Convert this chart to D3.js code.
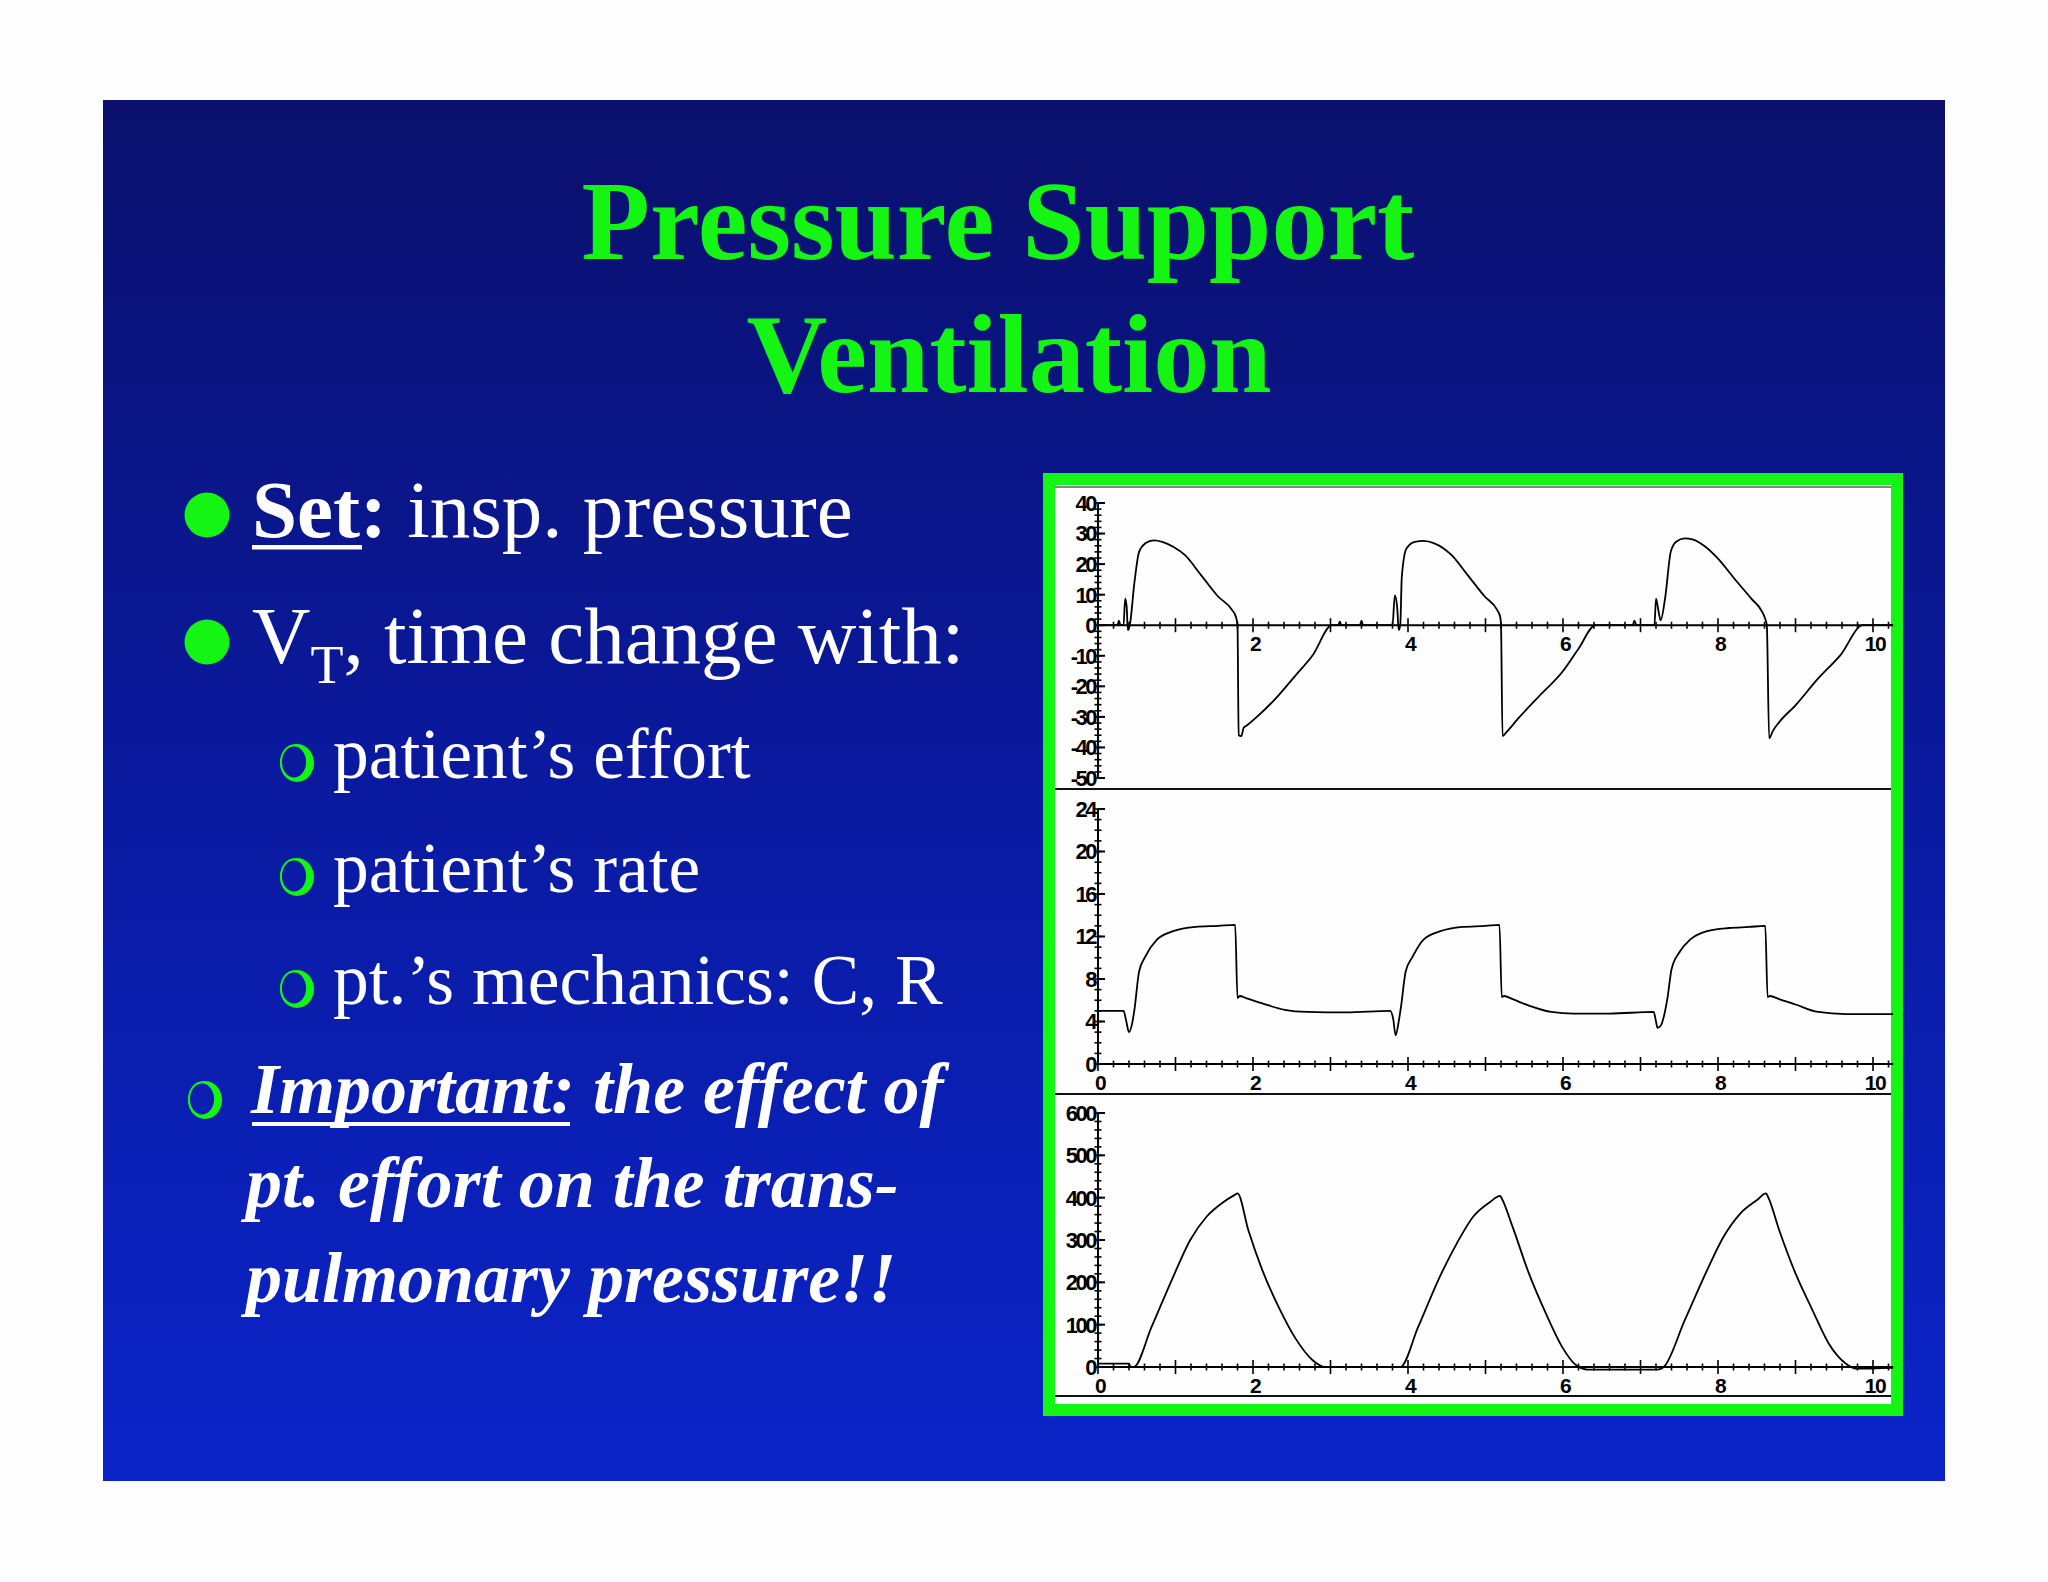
<!DOCTYPE html>
<html><head><meta charset="utf-8">
<script src="https://cdn.jsdelivr.net/npm/d3@7"></script>
<style>html,body{margin:0;padding:0;background:#fff;}svg{display:block}</style>
</head><body><svg id="c" width="2048" height="1582"></svg>
<script>
// ---------- DATA ----------
const titleLines = ["Pressure Support", "Ventilation"];
const timeTicks = [0, 2, 4, 6, 8, 10];
const flowTicks = [40, 30, 20, 10, 0, -10, -20, -30, -40, -50];
const pressTicks = [24, 20, 16, 12, 8, 4, 0];
const volTicks = [600, 500, 400, 300, 200, 100, 0];

// [time (s), value]
const flowData = [[0,0],[0.25,0],[0.27,1.5],[0.29,0],[0.33,0],[0.35,8.7],[0.37,6],[0.385,-1.6],[0.41,0],[0.47,14],[0.53,24],[0.61,26.8],[0.72,27.8],[0.83,27.3],[0.97,25.7],[1.12,23],[1.33,16.4],[1.55,9.4],[1.73,5],[1.78,2.7],[1.80,0],[1.815,-36],[1.85,-36.3],[1.88,-33.5],[1.91,-33],[2.05,-30],[2.27,-24.6],[2.55,-16.4],[2.77,-9.8],[3.02,0],[3.1,0],[3.12,1.2],[3.14,0],[3.38,0],[3.40,1.5],[3.42,0],[3.80,0],[3.83,9.8],[3.86,6],[3.88,-1.6],[3.90,0],[3.92,15.8],[3.98,25.1],[4.09,27.3],[4.20,27.6],[4.34,26.8],[4.56,23],[4.77,16.4],[4.99,9.4],[5.15,5],[5.19,2.7],[5.20,0],[5.22,-36.3],[5.27,-35],[5.42,-30.6],[5.70,-23],[5.99,-15.3],[6.20,-7.7],[6.42,0],[6.9,0],[6.92,1.5],[6.95,0],[7.18,0],[7.20,8.7],[7.23,5],[7.26,1.6],[7.32,9.3],[7.39,24],[7.46,27.3],[7.57,28.4],[7.68,28],[7.82,26],[8.0,21.8],[8.21,15.3],[8.43,8.7],[8.57,4.4],[8.61,2],[8.63,0],[8.66,-37],[8.71,-34.5],[8.79,-31.7],[9.0,-26.2],[9.29,-17.5],[9.58,-9.8],[9.87,0],[10.26,0]];

const pressData = [[0,5.0],[0.33,5.0],[0.36,4.2],[0.40,3.0],[0.44,3.8],[0.47,5.1],[0.53,8.7],[0.61,10.1],[0.76,11.7],[0.97,12.5],[1.26,12.9],[1.55,13.0],[1.77,13.1],[1.80,6.2],[1.83,6.4],[1.91,6.2],[2.12,5.7],[2.41,5.1],[2.70,4.9],[3.20,4.85],[3.77,5.0],[3.81,4.2],[3.84,2.7],[3.88,4.0],[3.91,5.4],[3.97,8.7],[4.06,10.1],[4.20,11.7],[4.42,12.5],[4.70,12.9],[5.0,13.0],[5.18,13.1],[5.21,6.3],[5.24,6.4],[5.35,6.1],[5.56,5.5],[5.85,4.9],[6.14,4.75],[6.6,4.75],[7.17,4.9],[7.20,4.0],[7.22,3.4],[7.26,3.6],[7.35,6.3],[7.40,8.9],[7.50,10.5],[7.64,11.7],[7.86,12.5],[8.14,12.8],[8.40,12.9],[8.61,13.0],[8.64,6.3],[8.67,6.4],[8.79,6.1],[9.0,5.6],[9.29,4.9],[9.65,4.7],[10.26,4.7]];

const volData = [[0,8],[0.40,8],[0.42,0],[0.46,0],[0.69,94],[0.97,213],[1.19,300],[1.40,355],[1.62,390],[1.76,406],[1.80,410],[1.94,323],[2.12,229],[2.33,142],[2.55,67],[2.77,16],[2.93,0],[3.90,0],[4.13,94],[4.41,213],[4.63,292],[4.84,355],[5.06,390],[5.19,404],[5.21,398],[5.35,331],[5.56,221],[5.78,126],[5.99,47],[6.17,4],[6.32,-6],[7.22,-6],[7.30,0],[7.57,110],[7.86,229],[8.07,307],[8.29,363],[8.50,394],[8.62,410],[8.65,400],[8.79,323],[9.0,221],[9.22,134],[9.43,55],[9.65,8],[9.78,-4],[10.26,-2]];

// ---------- DRAW ----------
const svg = d3.select("#c");
const defs = svg.append("defs");
const grad = defs.append("linearGradient").attr("id","bg")
  .attr("gradientUnits","userSpaceOnUse").attr("x1",0).attr("y1",100).attr("x2",0).attr("y2",1481);
grad.append("stop").attr("offset","0").attr("stop-color","#0a106c");
grad.append("stop").attr("offset","0.5").attr("stop-color","#0a1aa0");
grad.append("stop").attr("offset","1").attr("stop-color","#0a24c8");

svg.append("rect").attr("width",2048).attr("height",1582).attr("fill","#fdfdfd");
svg.append("rect").attr("x",103).attr("y",100).attr("width",1842).attr("height",1381).attr("fill","url(#bg)");

const GREEN = "#14f514";
const serif = "'Liberation Serif','Times New Roman',Times,serif";

// Title
const title = svg.append("text").attr("text-anchor","middle").attr("font-family",serif)
  .attr("font-weight","bold").attr("fill",GREEN).attr("font-size",112);
title.append("tspan").attr("x",998).attr("y",259).text(titleLines[0]);
title.append("tspan").attr("x",1009).attr("y",392).text(titleLines[1]);

// bullets
function dot(cx, cy){ svg.append("circle").attr("cx",cx).attr("cy",cy).attr("r",22.5).attr("fill",GREEN); }
function ring(cx, cy){
  svg.append("ellipse").attr("cx",cx+2).attr("cy",cy+1).attr("rx",17).attr("ry",19).attr("fill",GREEN);
  svg.append("ellipse").attr("cx",cx-1).attr("cy",cy).attr("rx",13).attr("ry",16.5).attr("fill","url(#bg)")
    .attr("stroke",GREEN).attr("stroke-width",1.8);
}
dot(207, 515);
dot(207, 642);

const t1 = svg.append("text").attr("x",252).attr("y",537).attr("font-family",serif).attr("font-size",81).attr("fill","#fff");
t1.append("tspan").attr("font-weight","bold").text("Set");
t1.append("tspan").attr("font-weight","bold").text(":");
t1.append("tspan").text(" insp. pressure");
svg.append("rect").attr("x",252).attr("y",545).attr("width",110).attr("height",4.5).attr("fill","#fff");

const t2 = svg.append("text").attr("x",252).attr("y",663).attr("font-family",serif).attr("font-size",81).attr("fill","#fff");
t2.append("tspan").text("V");
t2.append("tspan").attr("font-size",54).attr("dy",20).text("T");
t2.append("tspan").attr("dy",-20).text(", time change with:");

const subs = [["patient\u2019s effort",778],["patient\u2019s rate",892],["pt.\u2019s mechanics: C, R",1004]];
subs.forEach(([s,y])=>{
  ring(295, y-16);
  svg.append("text").attr("x",333).attr("y",y).attr("font-family",serif).attr("font-size",71.5).attr("fill","#fff").text(s);
});

ring(203, 1099);
const imp = svg.append("text").attr("font-family",serif).attr("font-size",72).attr("fill","#fff")
  .attr("font-weight","bold").attr("font-style","italic");
const l1 = imp.append("tspan").attr("x",251).attr("y",1113);
l1.append("tspan").text("Important:");
l1.append("tspan").text(" the effect of");
imp.append("tspan").attr("x",246).attr("y",1207).text("pt. effort on the trans-");
imp.append("tspan").attr("x",246).attr("y",1302).text("pulmonary pressure!!");
svg.append("rect").attr("x",252).attr("y",1122).attr("width",318).attr("height",4).attr("fill","#fff");

// Chart frame
svg.append("rect").attr("x",1043).attr("y",473).attr("width",860).attr("height",943).attr("fill",GREEN);
svg.append("rect").attr("x",1055).attr("y",485).attr("width",836).attr("height",919).attr("fill","#fefefe");

[487, 789, 1094, 1396].forEach(y=>{
  svg.append("line").attr("x1",1055).attr("x2",1891).attr("y1",y).attr("y2",y)
    .attr("stroke","#111").attr("stroke-width", y===487?1.2:2.2);
});

const x = d3.scaleLinear().domain([0,10]).range([1098,1873]);
const xEnd = 10.26;
const lab = "'Liberation Sans Narrow','Arial Narrow','Liberation Sans',Arial,sans-serif";

const panels = [
  {data: flowData, y: d3.scaleLinear().domain([-50,40]).range([778,503]), ticks: flowTicks, minor: 2, show0: false},
  {data: pressData, y: d3.scaleLinear().domain([0,24]).range([1064,809]), ticks: pressTicks, minor: 1, show0: true},
  {data: volData, y: d3.scaleLinear().domain([0,600]).range([1367,1113]), ticks: volTicks, minor: 20, show0: true}
];

panels.forEach(p=>{
  const g = svg.append("g");
  const y = p.y;
  const [d0,d1] = y.domain();
  const y0 = y(0);
  // y axis
  g.append("line").attr("x1",x(0)).attr("x2",x(0)).attr("y1",y(d1)).attr("y2",y(d0)).attr("stroke","#000").attr("stroke-width",2);
  d3.range(d0, d1 + p.minor/2, p.minor).forEach(v=>{
    g.append("line").attr("x1",x(0)-3.5).attr("x2",x(0)+3.5).attr("y1",y(v)).attr("y2",y(v)).attr("stroke","#000").attr("stroke-width",1.6);
  });
  p.ticks.forEach(v=>{
    g.append("line").attr("x1",x(0)).attr("x2",x(0)+7).attr("y1",y(v)).attr("y2",y(v)).attr("stroke","#000").attr("stroke-width",2);
    g.append("text").attr("x",x(0)-3).attr("y",y(v)).attr("dy","0.36em").attr("text-anchor","end")
      .attr("font-family",lab).attr("font-weight","bold").attr("font-size",22).attr("letter-spacing",-2.5)
      .attr("fill","#000").text(v);
  });
  // x axis
  g.append("line").attr("x1",x(0)).attr("x2",x(xEnd)).attr("y1",y0).attr("y2",y0).attr("stroke","#000").attr("stroke-width",2);
  d3.range(0, 10.25, 0.2).forEach(t=>{
    const major = Math.abs(t - Math.round(t)) < 1e-6;
    const h = major ? 7 : 3.5;
    g.append("line").attr("x1",x(t)).attr("x2",x(t)).attr("y1",y0-h).attr("y2",y0+h).attr("stroke","#000").attr("stroke-width",1.6);
  });
  timeTicks.filter(t=>p.show0 || t!==0).forEach(t=>{
    g.append("text").attr("x",x(t)+2).attr("y",y0+26).attr("text-anchor","middle")
      .attr("font-family",lab).attr("font-weight","bold").attr("font-size",21).attr("letter-spacing",-1.5)
      .attr("fill","#000").text(t);
  });
  // trace
  const line = d3.line().x(d=>x(d[0])).y(d=>y(d[1])).curve(d3.curveMonotoneX);
  g.append("path").attr("d",line(p.data)).attr("fill","none").attr("stroke","#000").attr("stroke-width",1.8);
});
</script></body></html>
